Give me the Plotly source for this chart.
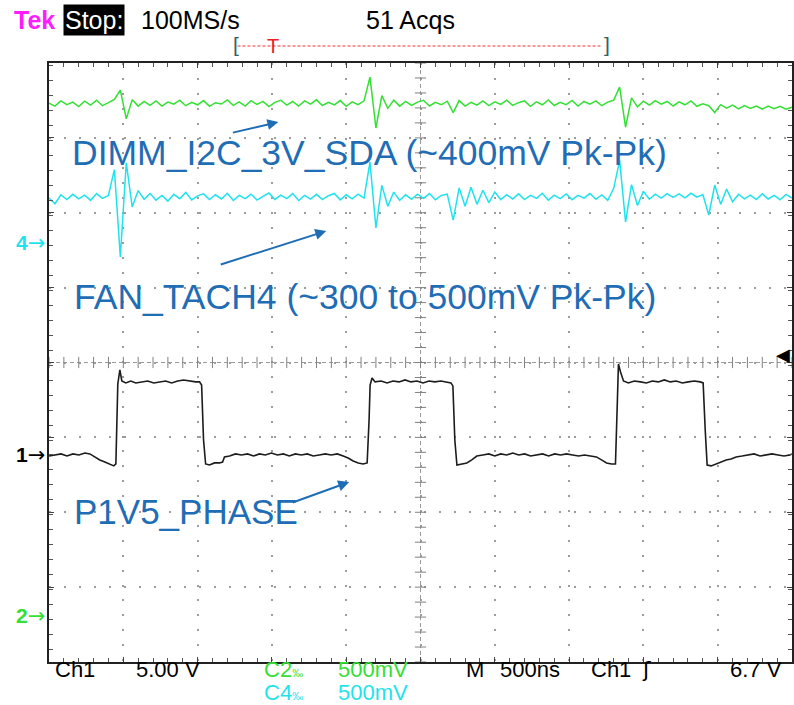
import numpy as np
import plotly.graph_objects as go

# ---------------- acquisition settings ----------------
TIME_PER_DIV_NS = 500
N_DIV_X = 10
N_DIV_Y = 8
SAMPLE_INTERVAL_NS = 40          # decimated record for CH2 / CH4

CH1_VOLTS_PER_DIV = 5.0
CH2_VOLTS_PER_DIV = 0.5
CH4_VOLTS_PER_DIV = 0.5
CH1_POSITION_DIV = -1.235        # ground marker positions (divisions from centre)
CH2_POSITION_DIV = -3.386
CH4_POSITION_DIV = 1.596
TRIGGER_LEVEL_V = 6.7

# ---------------- waveforms ----------------
# CH2  DIMM_I2C_3V_SDA  (volts, one sample per SAMPLE_INTERVAL_NS)
ch2_volts = [
    3.425, 3.405, 3.440, 3.415, 3.432, 3.402, 3.438, 3.412, 3.445, 3.408,
    3.428, 3.450, 3.512, 3.320, 3.448, 3.405, 3.436, 3.410, 3.440, 3.405,
    3.432, 3.418, 3.445, 3.408, 3.430, 3.414, 3.442, 3.404, 3.428, 3.419,
    3.446, 3.410, 3.433, 3.405, 3.441, 3.416, 3.437, 3.402, 3.430, 3.444,
    3.412, 3.436, 3.406, 3.440, 3.418, 3.447, 3.409, 3.431, 3.413, 3.442,
    3.404, 3.434, 3.415, 3.440, 3.599, 3.259, 3.475, 3.390, 3.445, 3.405,
    3.436, 3.410, 3.432, 3.444, 3.406, 3.430, 3.414, 3.438, 3.362, 3.442,
    3.405, 3.430, 3.412, 3.440, 3.408, 3.434, 3.416, 3.445, 3.410, 3.428,
    3.440, 3.404, 3.433, 3.414, 3.446, 3.409, 3.431, 3.415, 3.443, 3.405,
    3.436, 3.418, 3.440, 3.408, 3.432, 3.445, 3.532, 3.265, 3.460, 3.400,
    3.438, 3.412, 3.442, 3.418, 3.436, 3.406, 3.434, 3.414, 3.440, 3.404,
    3.420, 3.408, 3.362, 3.415, 3.392, 3.412, 3.386, 3.408, 3.390, 3.406,
    3.384, 3.405, 3.388, 3.404, 3.385, 3.398,
]

# CH4  FAN_TACH4  (volts, one sample per SAMPLE_INTERVAL_NS)
ch4_volts = [
    0.300, 0.262, 0.322, 0.290, 0.325, 0.295, 0.320, 0.285, 0.330, 0.298,
    0.318, 0.490, -0.093, 0.536, 0.240, 0.350, 0.292, 0.330, 0.286, 0.318,
    0.280, 0.325, 0.296, 0.338, 0.288, 0.315, 0.328, 0.290, 0.322, 0.294,
    0.332, 0.284, 0.318, 0.296, 0.326, 0.287, 0.312, 0.334, 0.291, 0.320,
    0.296, 0.330, 0.284, 0.318, 0.293, 0.325, 0.290, 0.316, 0.331, 0.288,
    0.322, 0.295, 0.326, 0.300, 0.540, 0.100, 0.385, 0.245, 0.340, 0.285,
    0.322, 0.292, 0.326, 0.298, 0.330, 0.288, 0.318, 0.326, 0.153, 0.368,
    0.245, 0.372, 0.258, 0.352, 0.270, 0.340, 0.290, 0.322, 0.294, 0.328,
    0.290, 0.318, 0.298, 0.332, 0.286, 0.320, 0.296, 0.327, 0.289, 0.318,
    0.300, 0.330, 0.292, 0.321, 0.285, 0.365, 0.550, 0.140, 0.390, 0.250,
    0.345, 0.292, 0.326, 0.300, 0.330, 0.305, 0.328, 0.302, 0.332, 0.306,
    0.324, 0.187, 0.387, 0.258, 0.360, 0.275, 0.326, 0.295, 0.320, 0.290,
    0.328, 0.294, 0.318, 0.288, 0.325, 0.300,
]

# CH1  P1V5_PHASE  (time in ns, volts)
ch1_time_ns = [
    0, 40, 81, 121, 161, 201, 242, 275, 309, 342, 376, 409, 436, 450,
    463, 477, 490, 517, 550, 584, 624, 664, 705, 745, 785, 825, 866, 906,
    946, 987, 1013, 1027, 1040, 1054, 1080, 1114, 1148, 1168, 1181, 1215,
    1255, 1295, 1336, 1376, 1416, 1456, 1497, 1537, 1577, 1617, 1658, 1698,
    1738, 1778, 1819, 1859, 1899, 1940, 1980, 2013, 2047, 2081, 2114, 2141,
    2154, 2161, 2174, 2194, 2235, 2275, 2315, 2356, 2396, 2436, 2476, 2517,
    2557, 2597, 2637, 2678, 2705, 2718, 2731, 2745, 2778, 2812, 2845, 2879,
    2919, 2960, 3000, 3040, 3080, 3121, 3161, 3201, 3241, 3282, 3322, 3362,
    3403, 3443, 3483, 3523, 3564, 3604, 3644, 3684, 3718, 3752, 3785, 3812,
    3825, 3832, 3846, 3866, 3899, 3939, 3980, 4020, 4060, 4100, 4141, 4181,
    4221, 4262, 4302, 4342, 4382, 4402, 4416, 4429, 4456, 4490, 4523, 4557,
    4590, 4624, 4664, 4705, 4745, 4785, 4825, 4866, 4906, 4946, 4986, 5000,
]
ch1_volts = [
    -0.07, 0.00, 0.07, -0.07, 0.07, 0.00, 0.13, 0.07, -0.13, -0.33, -0.47, -0.60, -0.73, -0.60,
    4.74, 5.68, 4.94, 4.81, 4.94, 4.81, 4.88, 4.94, 4.81, 4.88, 4.94, 4.81, 4.94, 5.01,
    4.94, 4.88, 4.88, 4.67, 1.00, -0.60, -0.67, -0.53, -0.53, -0.47, -0.13, -0.07,
    0.07, 0.00, 0.07, -0.07, 0.07, 0.00, 0.13, 0.00, 0.07, -0.07, 0.07, 0.00,
    0.07, -0.07, 0.00, 0.07, 0.00, 0.07, -0.07, -0.20, -0.40, -0.53, -0.60, -0.53,
    2.34, 4.67, 5.14, 4.88, 4.94, 4.81, 4.94, 4.88, 5.01, 4.88, 4.94, 4.81,
    4.94, 4.88, 4.94, 4.88, 4.81, 4.61, 1.00, -0.67, -0.60, -0.53, -0.33, -0.07,
    0.00, 0.07, -0.07, 0.07, 0.00, 0.13, 0.00, 0.07, -0.07, 0.00, 0.07, -0.07,
    0.07, 0.00, 0.07, 0.00, -0.07, 0.00, -0.07, -0.13, -0.33, -0.53, -0.60, -0.60,
    3.67, 6.08, 5.54, 4.94, 4.81, 4.94, 4.88, 4.81, 4.94, 4.88, 5.01, 4.88,
    4.94, 4.81, 4.88, 4.94, 4.88, 4.81, 1.67, -0.67, -0.73, -0.60, -0.47, -0.33,
    -0.27, -0.13, -0.07, 0.00, 0.07, -0.07, 0.00, 0.07, 0.00, -0.07, 0.00, 0.07,
]

# ---------------- colours & fonts ----------------
GREEN = "#33E033"
CYAN = "#1FE3EC"
TRACE_BLACK = "#1c1c1c"
NOTE_BLUE = "#1F6DB5"
GRID = "#9c9c9c"
SCOPE_FONT = "Liberation Sans, Arial, sans-serif"
NOTE_FAMILY = "Liberation Sans, Arial, sans-serif"

# ---------------- derived axis ranges ----------------
def channel_range(volts_per_div, position_div):
    return [(-N_DIV_Y / 2 - position_div) * volts_per_div,
            (N_DIV_Y / 2 - position_div) * volts_per_div]

ch1_range = channel_range(CH1_VOLTS_PER_DIV, CH1_POSITION_DIV)
ch2_range = channel_range(CH2_VOLTS_PER_DIV, CH2_POSITION_DIV)
ch4_range = channel_range(CH4_VOLTS_PER_DIV, CH4_POSITION_DIV)
ch1_centre = -CH1_POSITION_DIV * CH1_VOLTS_PER_DIV
full_time = TIME_PER_DIV_NS * N_DIV_X

sample_time = np.arange(len(ch2_volts)) * SAMPLE_INTERVAL_NS

fig = go.Figure()

# centre-line minor ticks of the graticule
minor_step_t = TIME_PER_DIV_NS / 5
minor_step_v = CH1_VOLTS_PER_DIV / 5
tx = np.arange(0, full_time + 1, minor_step_t)
fig.add_trace(go.Scatter(
    x=tx, y=np.full(len(tx), ch1_centre), mode="markers",
    marker=dict(symbol="line-ns", size=8, line=dict(width=1, color="#808080")),
    hoverinfo="skip", showlegend=False))
vy = ch1_range[0] + np.arange(0, N_DIV_Y * 5 + 1) * minor_step_v
fig.add_trace(go.Scatter(
    x=np.full(len(vy), full_time / 2), y=vy, mode="markers",
    marker=dict(symbol="line-ew", size=8, line=dict(width=1, color="#808080")),
    hoverinfo="skip", showlegend=False))

# waveforms
fig.add_trace(go.Scatter(x=sample_time, y=ch2_volts, yaxis="y2", mode="lines",
                         line=dict(color=GREEN, width=1.5), name="C2", showlegend=False))
fig.add_trace(go.Scatter(x=sample_time, y=ch4_volts, yaxis="y3", mode="lines",
                         line=dict(color=CYAN, width=1.5), name="C4", showlegend=False))
fig.add_trace(go.Scatter(x=ch1_time_ns, y=ch1_volts, yaxis="y", mode="lines",
                         line=dict(color=TRACE_BLACK, width=1.6), name="Ch1", showlegend=False))

axis_common = dict(
    showgrid=True, gridcolor=GRID, gridwidth=1.5,
    ticks="inside", ticklen=5, tickcolor="#444", tickwidth=1,
    showticklabels=False, showline=True, linecolor="#222", linewidth=2,
    mirror="ticks", zeroline=False, fixedrange=True,
)

fig.update_layout(
    width=794, height=705, autosize=False,
    margin=dict(l=49, r=0, t=63, b=43),
    paper_bgcolor="white", plot_bgcolor="white",
    showlegend=False,
    xaxis=dict(range=[0, full_time], dtick=TIME_PER_DIV_NS, tick0=0,
               griddash="2px,12.9px",
               minor=dict(dtick=minor_step_t, ticks="inside", ticklen=4,
                          tickcolor="#555", showgrid=False),
               **axis_common),
    yaxis=dict(range=ch1_range, dtick=CH1_VOLTS_PER_DIV, tick0=ch1_centre,
               griddash="2px,13px",
               minor=dict(dtick=minor_step_v, ticks="inside", ticklen=4,
                          tickcolor="#555", showgrid=False),
               **axis_common),
    yaxis2=dict(range=ch2_range, overlaying="y", visible=False, fixedrange=True),
    yaxis3=dict(range=ch4_range, overlaying="y", visible=False, fixedrange=True),
)

# centre cross of the graticule
for shp in [
    dict(type="line", xref="x domain", yref="y domain", x0=0, x1=1, y0=0.5, y1=0.5),
    dict(type="line", xref="x domain", yref="y domain", x0=0.5, x1=0.5, y0=0, y1=1),
]:
    fig.add_shape(**shp, layer="below", line=dict(color="#9a9a9a", width=1, dash="4px,3px"))


def px_x(px):
    return (px - 49) / 745


def px_y(py):
    return (662 - py) / 599


def label(text, x, y, color="black", size=24, xanchor="left", family=SCOPE_FONT,
          yanchor="middle", **kw):
    fig.add_annotation(text=text, xref="paper", yref="paper", x=px_x(x), y=px_y(y),
                       xanchor=xanchor, yanchor=yanchor, showarrow=False,
                       font=dict(family=family, size=size, color=color), **kw)


# header
label("<b>Tek</b>", 12, 20, color="#FF1CFF", size=25)
label("Stop:", 63, 20, color="white", size=25, bgcolor="black", borderpad=1)
label("100MS/s", 139, 20, size=25)
label("51 Acqs", 365, 20, size=25)

# record view bar
fig.add_shape(type="line", xref="paper", yref="paper", x0=px_x(238), x1=px_x(603),
              y0=px_y(46), y1=px_y(46), line=dict(color="#F03030", width=1.2, dash="3px,2px"))
label("[", 231, 45, color="#2F6464", size=21)
label("]", 603, 45, color="#2F6464", size=21)
label("T", 266, 46, color="#F02020", size=20)

# footer (two rows)
FOOT = 22
ROW1, ROW2 = 669, 692
label("Ch1", 53, ROW1, size=FOOT)
label("5.00 V", 134, ROW1, size=FOOT)
label("C2<span style='font-size:11px'>‰</span>", 263, ROW1, color=GREEN, size=FOOT)
label("500mV", 337, ROW1, color=GREEN, size=FOOT)
label("M", 465, ROW1, size=FOOT)
label("500ns", 499, ROW1, size=FOOT)
label("Ch1", 590, ROW1, size=FOOT)
label("ʃ", 642, ROW1, family="DejaVu Sans", size=FOOT)
label(f"{TRIGGER_LEVEL_V:.1f} V", 786, ROW1, xanchor="right", size=FOOT)
label("C4<span style='font-size:11px'>‰</span>", 263, ROW2, color=CYAN, size=FOOT)
label("500mV", 337, ROW2, color=CYAN, size=FOOT)

# channel ground markers
label("<b>4</b><span style='font-family:DejaVu Sans'>→</span>", 47, 243, color=CYAN, size=21, xanchor="right")
label("<b>1</b><span style='font-family:DejaVu Sans'>→</span>", 47, 455, color="black", size=21, xanchor="right")
label("<b>2</b><span style='font-family:DejaVu Sans'>→</span>", 47, 616, color=GREEN, size=21, xanchor="right")

# trigger level marker (right edge)
fig.add_annotation(text="◀", xref="paper", yref="y", x=1, y=TRIGGER_LEVEL_V,
                   xanchor="right", yanchor="middle", showarrow=False,
                   font=dict(family="DejaVu Sans", size=18, color="black"))

# signal notes with arrows
label("DIMM_I2C_3V_SDA (~400mV Pk-Pk)", 70, 153, color=NOTE_BLUE, size=35.5, family=NOTE_FAMILY)
label("FAN_TACH4 (~300 to 500mV Pk-Pk)", 72, 297, color=NOTE_BLUE, size=35.5, family=NOTE_FAMILY)
label("P1V5_PHASE", 72, 511, color=NOTE_BLUE, size=35, family=NOTE_FAMILY)

for head, tail in [((279, 122), (232, 133)), ((327, 231), (220, 265)), ((350, 482), (292, 503))]:
    fig.add_annotation(text="", xref="paper", yref="paper", x=px_x(head[0]), y=px_y(head[1]),
                       ax=tail[0] - head[0], ay=tail[1] - head[1], axref="pixel", ayref="pixel",
                       showarrow=True, arrowhead=2, arrowsize=1.1, arrowwidth=2,
                       arrowcolor=NOTE_BLUE)

fig.write_html("out.html")
